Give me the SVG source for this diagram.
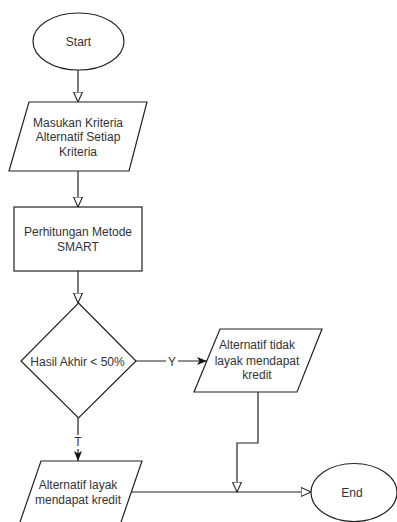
<svg xmlns="http://www.w3.org/2000/svg" width="397" height="522" viewBox="0 0 397 522">
<style>
.s{fill:#fff;stroke:#222;stroke-width:1.2}
.c{fill:none;stroke:#222;stroke-width:1.2}
text{font-family:"Liberation Sans",Arial,sans-serif;font-size:12px;fill:#333;text-anchor:middle}
</style>
<defs>
<marker id="open" markerUnits="userSpaceOnUse" markerWidth="12" markerHeight="11" refX="10.5" refY="5" orient="auto">
<path d="M0.5,0.5 L10.5,5 L0.5,9.5 Z" fill="#fff" stroke="#222" stroke-width="1.1"/>
</marker>
<marker id="fill" markerUnits="userSpaceOnUse" markerWidth="11" markerHeight="9" refX="10" refY="4" orient="auto">
<path d="M0,0 L10,4 L0,8 L2.5,4 Z" fill="#111"/>
</marker>
</defs>
<g id="connectors">
<path class="c" d="M78,70 V102" marker-end="url(#open)"/>
<path class="c" d="M78,171 V207" marker-end="url(#open)"/>
<path class="c" d="M78,271 V303" marker-end="url(#open)"/>
<path class="c" d="M136,361 H207" marker-end="url(#fill)"/>
<rect x="166" y="354" width="12" height="14" fill="#fff"/>
<text x="172" y="365.5">Y</text>
<path class="c" d="M78,418 V461" marker-end="url(#fill)"/>
<rect x="72" y="435" width="12" height="14" fill="#fff"/>
<text x="78" y="446">T</text>
<path class="c" d="M258,392 V443 H237 V492" marker-end="url(#open)"/>
<path class="c" d="M130,492 H311" marker-end="url(#open)"/>
</g>
<g id="start">
<ellipse class="s" cx="78.5" cy="41.5" rx="45.5" ry="28.5"/>
<text x="78.5" y="46">Start</text>
</g>
<g id="input">
<path class="s" d="M29,102 H147 L129,171 H9 Z"/>
<text x="78" y="126.5">Masukan Kriteria</text>
<text x="78" y="141">Alternatif Setiap</text>
<text x="78" y="155.5">Kriteria</text>
</g>
<g id="process">
<rect class="s" x="14" y="207" width="128" height="64"/>
<text x="78" y="236">Perhitungan Metode</text>
<text x="78" y="250.5">SMART</text>
</g>
<g id="decision">
<path class="s" d="M78.5,303 L136,361 L78.5,418 L21,361 Z"/>
<text x="77.5" y="365.5">Hasil Akhir &lt; 50%</text>
</g>
<g id="notEligible">
<path class="s" d="M220,329 H322 L297,392 H194 Z"/>
<text x="257" y="349">Alternatif tidak</text>
<text x="257" y="364.5">layak mendapat</text>
<text x="257" y="379">kredit</text>
</g>
<g id="eligible">
<path class="s" d="M41,461 H142 L120,525 H19 Z"/>
<text x="78" y="489">Alternatif layak</text>
<text x="78" y="503.5">mendapat kredit</text>
</g>
<g id="end">
<ellipse class="s" cx="354" cy="492.5" rx="43" ry="29"/>
<text x="352" y="497">End</text>
</g>
</svg>
